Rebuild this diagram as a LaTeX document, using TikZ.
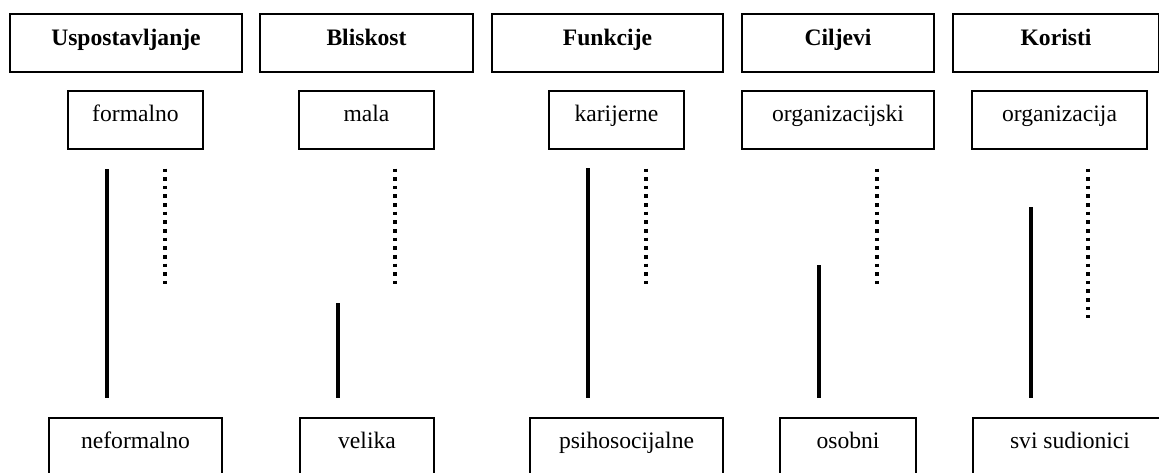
\documentclass[tikz,border=0pt]{standalone}
\usepackage{fontspec}
\setmainfont{Liberation Serif}

\begin{document}
\begin{tikzpicture}[x=0.5pt,y=-0.5pt,
	head/.style={draw,line width=0.75pt,inner sep=0pt,anchor=north,font=\fontsize{11.8}{14}\selectfont\bfseries,text height=16pt,text depth=13pt},
	val/.style={draw,line width=0.75pt,inner sep=0pt,anchor=north,font=\fontsize{11.8}{14}\selectfont,text height=15.5pt,text depth=13.5pt},
	bar/.style={line width=2pt},
	dots/.style={line width=1.8pt,dash pattern=on 1.8pt off 2.52pt}]
	\clip (0,0) rectangle (1159,472);
	\node[head,minimum width=116pt] (h-1) at (126,13) {Uspostavljanje};
	\node[head,minimum width=106.5pt] (h-2) at (366.5,13) {Bliskost};
	\node[head,minimum width=115.5pt] (h-3) at (607.5,13) {Funkcije};
	\node[head,minimum width=96pt] (h-4) at (838,13) {Ciljevi};
	\node[head,minimum width=103pt] (h-5) at (1056,13) {Koristi};
	
	\node[val,minimum width=67.5pt] (t-1) at (135.5,90) {formalno};
	\node[val,minimum width=67.5pt] (t-2) at (366.5,90) {mala};
	\node[val,minimum width=67.5pt] (t-3) at (616.5,90) {karijerne};
	\node[val,minimum width=96pt] (t-4) at (838,90) {organizacijski};
	\node[val,minimum width=87.5pt] (t-5) at (1059.5,90) {organizacija};
	
	\node[val,minimum width=86.5pt] (b-1) at (135.5,417) {neformalno};
	\node[val,minimum width=67pt] (b-2) at (367,417) {velika};
	\node[val,minimum width=96.5pt] (b-3) at (626.5,417) {psihosocijalne};
	\node[val,minimum width=68pt] (b-4) at (848,417) {osobni};
	\node[val,minimum width=97pt] (b-5) at (1070,417) {svi sudionici};
	
	\coordinate (s-1) at (107,169);
	\coordinate (s-2) at (338,303);
	\coordinate (s-3) at (588,168);
	\coordinate (s-4) at (819,265);
	\coordinate (s-5) at (1031,207);
	\coordinate (e-1) at (107,398);
	\coordinate (e-2) at (338,398);
	\coordinate (e-3) at (588,398);
	\coordinate (e-4) at (819,398);
	\coordinate (e-5) at (1031,398);
	\path[bar,draw]
	(s-1) -- (e-1)
	(s-2) -- (e-2)
	(s-3) -- (e-3)
	(s-4) -- (e-4)
	(s-5) -- (e-5)
	;
	
	\coordinate (d-1) at (165,168.5);
	\coordinate (d-2) at (395,168.5);
	\coordinate (d-3) at (646,168.5);
	\coordinate (d-4) at (877,168.5);
	\coordinate (d-5) at (1088,168.5);
	\coordinate (f-1) at (165,284);
	\coordinate (f-2) at (395,284);
	\coordinate (f-3) at (646,284);
	\coordinate (f-4) at (877,284);
	\coordinate (f-5) at (1088,318);
	\path[dots,draw]
	(d-1) -- (f-1)
	(d-2) -- (f-2)
	(d-3) -- (f-3)
	(d-4) -- (f-4)
	(d-5) -- (f-5)
	;
\end{tikzpicture}
\end{document}
